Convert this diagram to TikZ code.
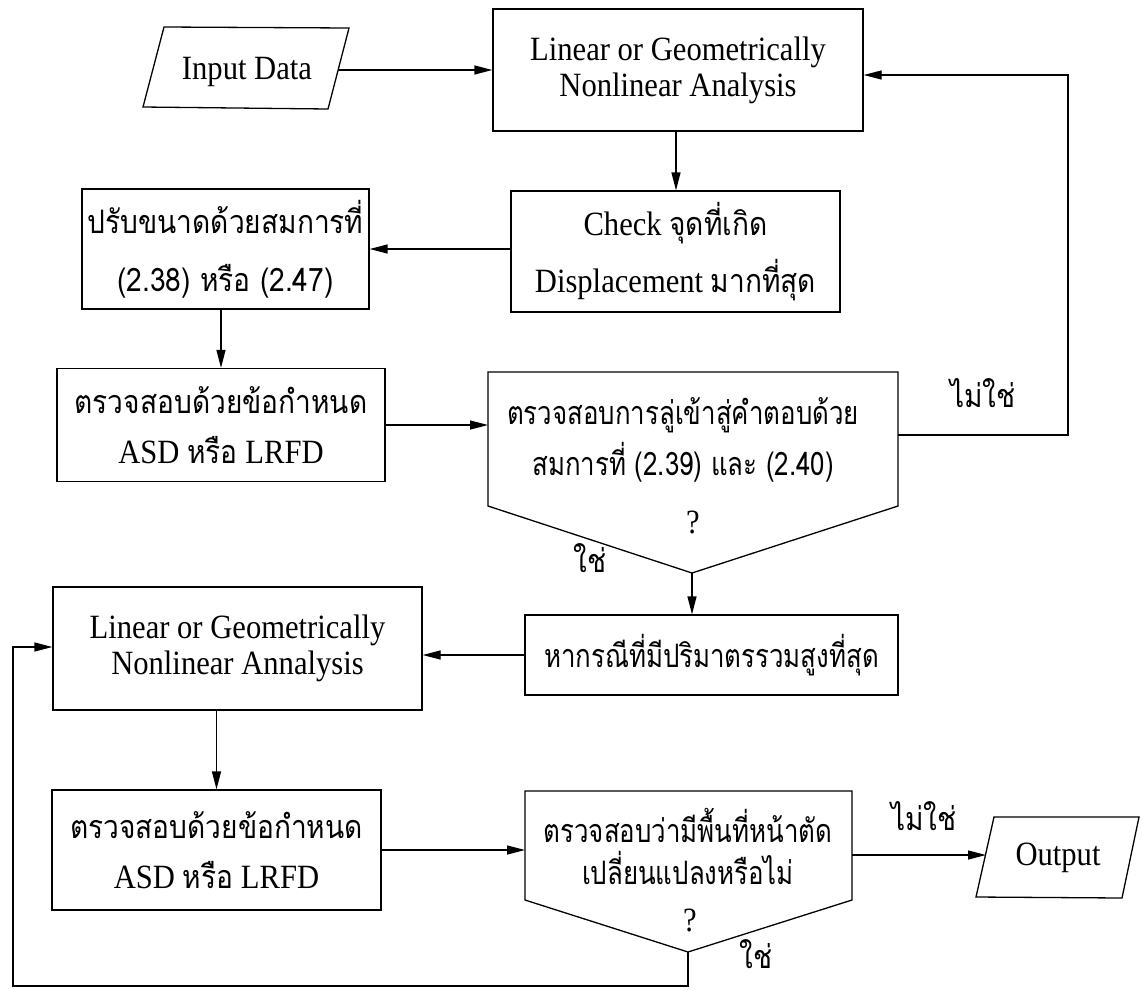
\documentclass[tikz,border=0pt]{standalone}
\usepackage{fontspec}
\setmainfont{Liberation Serif}[FakeStretch=0.9]
\newfontfamily\thai[Script=Thai,Scale=0.95,FakeStretch=0.8]{Loma}
\newfontfamily\thaiw[Script=Thai,Scale=0.95,FakeStretch=0.87]{Loma}
\usetikzlibrary{arrows.meta}
\begin{document}
\begin{tikzpicture}[x=1pt,y=-1pt,
  box/.style={draw, line width=1.3pt, inner sep=0pt, align=center},
  ln/.style={line width=1.3pt},
  arr/.style={line width=1.3pt, -{Triangle[length=18pt,width=9pt]}},
  en/.style={font=\fontsize{34}{36}\selectfont},
  lbl/.style={font=\thaiw\fontsize{34}{36}\selectfont, inner sep=0pt},
]
\useasboundingbox (0,0) rectangle (1143,989);

% input parallelogram
\coordinate (inTL) at (164,27);
\coordinate (inTR) at (349,28);
\coordinate (inBR) at (328,109);
\coordinate (inBL) at (143,107);
\draw[ln] (inTL) -- (inTR) -- (inBR) -- (inBL) -- cycle;
\node[en] (inp) at (247,72) {Input Data};
\coordinate (inR) at (338,70);

% boxes
\node[box, en, minimum width=370pt, minimum height=122pt] (b1) at (678,70)
  {Linear or Geometrically\\Nonlinear Analysis};
\node[box, en, minimum width=329pt, minimum height=121pt] (b2) at (675.5,251.5)
  {Check {\thaiw จุดที่เกิด}\\[14pt]Displacement {\thaiw มากที่สุด}};
\node[box, en, minimum width=287pt, minimum height=120pt] (b3) at (225.5,249)
  {\thaiw ปรับขนาดด้วยสมการที่\\[22pt]\thaiw (2.38) หรือ (2.47)};
\node[box, en, minimum width=328pt, minimum height=113pt] (b4) at (221,425)
  {\thaiw ตรวจสอบด้วยข้อกำหนด\\[14pt]ASD {\thaiw หรือ} LRFD};

% decision 1
\coordinate (d1tl) at (488,372);
\coordinate (d1tr) at (898,372);
\coordinate (d1br) at (898,506);
\coordinate (d1ap) at (692,573);
\coordinate (d1bl) at (488,506);
\draw[ln] (d1tl) -- (d1tr) -- (d1br) -- (d1ap) -- (d1bl) -- cycle;
\node[en, align=center] (d1) at (683,440)
  {\thai ตรวจสอบการลู่เข้าสู่คำตอบด้วย\\[9pt]\thai สมการที่ (2.39) และ (2.40)};
\node[en] (q1) at (693,522) {?};

\node[box, en, minimum width=373pt, minimum height=80pt] (b5) at (711.5,655)
  {\thai หากรณีที่มีปริมาตรรวมสูงที่สุด};
\node[box, en, minimum width=369pt, minimum height=123pt] (b6) at (237.5,648.5)
  {Linear or Geometrically\\Nonlinear Annalysis};
\node[box, en, minimum width=329pt, minimum height=120pt] (b7) at (216.5,850)
  {\thaiw ตรวจสอบด้วยข้อกำหนด\\[14pt]ASD {\thaiw หรือ} LRFD};

% decision 2
\coordinate (d2tl) at (525,791);
\coordinate (d2tr) at (852,791);
\coordinate (d2br) at (852,900);
\coordinate (d2ap) at (688,952);
\coordinate (d2bl) at (525,900);
\draw[ln] (d2tl) -- (d2tr) -- (d2br) -- (d2ap) -- (d2bl) -- cycle;
\node[en, align=center] (d2) at (688,846)
  {\thai ตรวจสอบว่ามีพื้นที่หน้าตัด\\[6pt]\thai เปลี่ยนแปลงหรือไม่};
\node[en] (q2) at (690,920) {?};

% output parallelogram
\coordinate (oTL) at (994,817);
\coordinate (oTR) at (1139,817);
\coordinate (oBR) at (1122,898);
\coordinate (oBL) at (976,897);
\draw[ln] (oTL) -- (oTR) -- (oBR) -- (oBL) -- cycle;
\node[en] (out) at (1058,858) {Output};
\coordinate (oL) at (986,855);

% labels
\node[lbl] (no1) at (983,393) {ไม่ใช่};
\node[lbl] (yes1) at (590,558) {ใช่};
\node[lbl] (no2) at (924,816) {ไม่ใช่};
\node[lbl] (yes2) at (756,954) {ใช่};

% connectors
\coordinate (d1r) at (898,435);
\coordinate (c1) at (1068,75);
\coordinate (d2r) at (852,855);
\coordinate (c2) at (13,986);
\coordinate (y647) at (0,647);
\draw[arr] (inR) -- (b1.west |- inR);
\draw[arr] (b1.south -| 676,0) -- (b2.north -| 676,0);
\draw[arr] (b2.west |- 0,249) -- (b3.east |- 0,249);
\draw[arr] (b3.south -| b4.north) -- (b4.north);
\draw[arr] (b4.east) -- (d1tl |- b4.east);
\draw[arr] (d1r) -| (c1) -- (b1.east |- c1);
\draw[arr] (d1ap) -- (d1ap |- b5.north);
\draw[arr] (b5.west) -- (b6.east |- b5.west);
\draw[arr] (b6.south -| b7.north) -- (b7.north);
\draw[arr] (b7.east) -- (d2tl |- b7.east);
\draw[arr] (d2r) -- (oL);
\draw[arr] (d2ap) |- (c2) |- (b6.west |- y647);
\end{tikzpicture}
\end{document}
